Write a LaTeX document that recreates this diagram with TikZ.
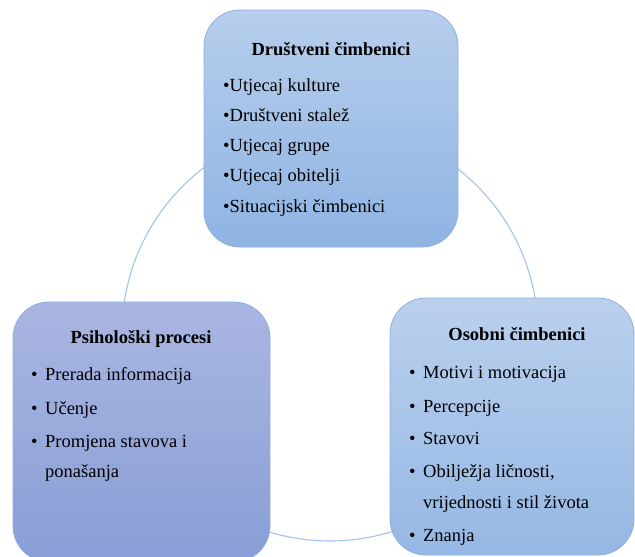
\documentclass[tikz,border=0pt]{standalone}
\usepackage{fontspec}
\setmainfont{Liberation Serif}
\definecolor{plavaA}{HTML}{B7CEEC}
\definecolor{plavaB}{HTML}{8FB4E3}
\definecolor{ljubA}{HTML}{AAB6E1}
\definecolor{ljubB}{HTML}{889ED6}
\definecolor{rub}{HTML}{8DAFDF}
\definecolor{krug}{HTML}{A2C3EA}

\begin{document}
\begin{tikzpicture}[x=1pt,y=-1pt,
  okvir/.style={rounded corners=36pt,draw=rub,line width=0.8pt},
  naslov/.style={anchor=base,inner sep=0pt,font=\fontsize{18.5}{22}\selectfont\bfseries},
  stavka/.style={anchor=base west,inner sep=0pt,font=\fontsize{18.5}{22}\selectfont}]
	\useasboundingbox (0,0) rectangle (635,557);
	% krug
	\draw[krug,line width=1.1pt] (330,333) circle (208pt);
	% okviri
	\draw[okvir,top color=plavaA,bottom color=plavaB] (204,10) rectangle (458,247);
	\draw[okvir,top color=ljubA,bottom color=ljubB] (13,302) rectangle (270,562);
	\draw[okvir,top color=plavaA!95!white,bottom color=plavaB!95!white] (390,298) rectangle (634,555);
	% drustveni cimbenici
	\node[naslov] (drustveni) at (331,55) {Društveni čimbenici};
	\foreach \t [count=\i] in {Utjecaj kulture,Društveni stalež,Utjecaj grupe,Utjecaj obitelji,Situacijski čimbenici}
	  \node[stavka] (d\i) at (223,{91+30.3*(\i-1)}) {\textbullet\t};
	% psiholoski procesi
	\node[naslov] (psiholoski) at (141,343) {Psihološki procesi};
	\foreach \y/\t [count=\i] in {380/Prerada informacija,414/Učenje,447/Promjena stavova i}
	  \node[stavka] (p\i) at (31,\y) {\makebox[14pt][l]{\textbullet}\t};
	\node[stavka] (p4) at (45,477) {ponašanja};
	% osobni cimbenici
	\node[naslov] (osobni) at (517,340) {Osobni čimbenici};
	\foreach \y/\t [count=\i] in {378/Motivi i motivacija,412/Percepcije,444/Stavovi,477/{Obilježja ličnosti,},541/Znanja}
	  \node[stavka] (o\i) at (409,\y) {\makebox[14pt][l]{\textbullet}\t};
	\node[stavka] (o6) at (423,508) {vrijednosti i stil života};
\end{tikzpicture}
\end{document}
